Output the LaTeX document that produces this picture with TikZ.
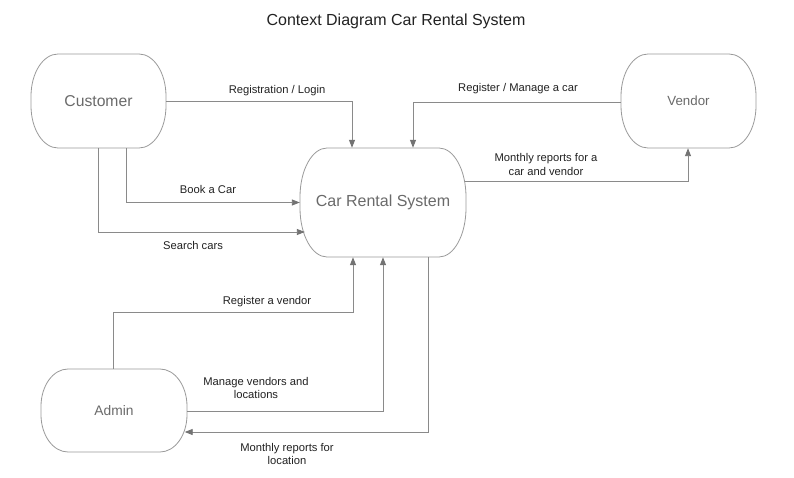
\documentclass[tikz,border=0pt]{standalone}
\usepackage{fontspec}
\setmainfont{Liberation Sans}
\usetikzlibrary{arrows.meta}
\definecolor{linegray}{HTML}{8A8A8A}
\definecolor{boxgray}{HTML}{9A9A9A}
\definecolor{nodetext}{HTML}{6A6A6A}
\definecolor{labeltext}{HTML}{222222}
\tikzset{
  outline/.style={draw=boxgray, line width=0.8pt},
  termtext/.style={inner sep=0pt, text=nodetext},
  flow/.style={draw=linegray, line width=0.9pt, -{Triangle[length=8pt,width=6pt,color=gray!90!black]}},
  flowlabel/.style={inner sep=0pt, text=labeltext, font=\fontsize{11.2}{13.4}\selectfont, align=center},
}
\newcommand\termbox[7]{%
  \node[termtext, minimum width=#4pt, minimum height=#5pt, font=\fontsize{#7}{#7}\selectfont] (#1) at (#2,#3) {#6};
  \draw[outline] ({#2-#4/2+27},{#3+#5/2}) -- ({#2+#4/2-27},{#3+#5/2})
    arc[start angle=90,end angle=0,x radius=27pt,y radius={0.45*#5pt}]
    -- ({#2+#4/2},{#3-#5/2+0.45*#5})
    arc[start angle=0,end angle=-90,x radius=27pt,y radius={0.45*#5pt}]
    -- ({#2-#4/2+27},{#3-#5/2})
    arc[start angle=270,end angle=180,x radius=27pt,y radius={0.45*#5pt}]
    -- ({#2-#4/2},{#3+#5/2-0.45*#5})
    arc[start angle=180,end angle=90,x radius=27pt,y radius={0.45*#5pt}]
    -- cycle;}
\begin{document}
\begin{tikzpicture}[x=1pt,y=1pt]
\useasboundingbox[fill=white] (0,-478) rectangle (794,0);
\node[inner sep=0pt, text=labeltext, font=\fontsize{16}{19}\selectfont] (title) at (396,-21) {Context Diagram Car Rental System};

\termbox{cust}{98.5}{-101}{135}{94}{Customer}{15.7}
\termbox{crs}{383}{-202.5}{166}{109}{Car Rental System}{16}
\termbox{vend}{688.5}{-101}{135}{94}{Vendor}{13.3}
\termbox{admin}{114}{-410.5}{146}{83}{Admin}{13.8}

% connectors
\draw[flow] (cust.east) -| ([xshift=-31pt]crs.north);
\draw[flow] ([xshift=27.5pt]cust.south) |- (crs.west);
\draw[flow] ([xshift=-0.5pt]cust.south) |- ([xshift=5pt,yshift=-29.5pt]crs.west);
\draw[flow] ([yshift=-1pt]vend.west) -| ([xshift=30pt]crs.north);
\draw[flow] ([xshift=-1pt,yshift=21.5pt]crs.east) -| ([xshift=-0.5pt]vend.south);
\draw[flow] ([xshift=-1pt]admin.north) -- ++(0,56) -| ([xshift=-30pt]crs.south);
\draw[flow] ([yshift=-0.5pt]admin.east) -| (crs.south);
\draw[flow] ([xshift=45pt]crs.south) |- ([xshift=-2.5pt,yshift=-21.5pt]admin.east);

% labels
\node[flowlabel] (l1) at (277,-91) {Registration / Login};
\node[flowlabel] (l2) at (208,-189) {Book a Car};
\node[flowlabel] (l3) at (193,-245) {Search cars};
\node[flowlabel] (l4) at (518,-89) {Register / Manage a car};
\node[flowlabel] (l5) at (546,-164.5) {Monthly reports for a\\car and vendor};
\node[flowlabel] (l6) at (267,-302) {Register a vendor};
\node[flowlabel] (l7) at (256,-388) {Manage vendors and\\locations};
\node[flowlabel] (l8) at (287,-454) {Monthly reports for\\location};
\end{tikzpicture}
\end{document}
